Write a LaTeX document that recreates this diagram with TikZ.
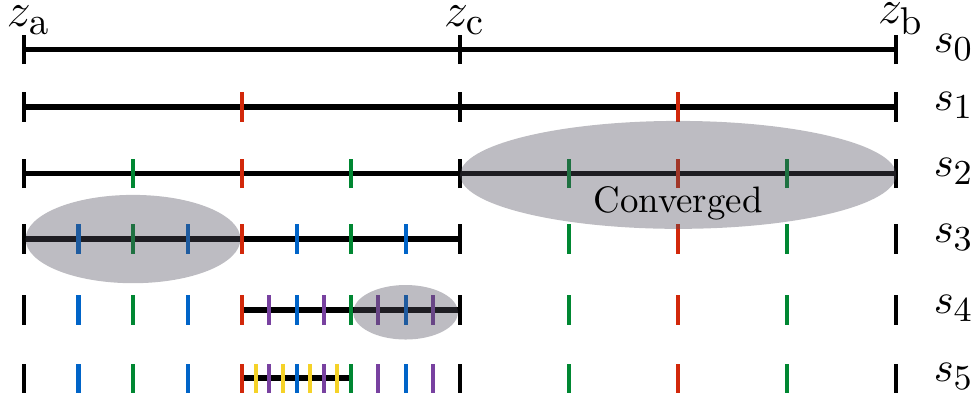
\RequirePackage{fix-cm}
\documentclass[tikz,border=0pt]{standalone}
\usetikzlibrary{positioning}
\DeclareMathSizes{13}{13}{10.5}{8}
\DeclareMathSizes{11.5}{11.5}{9.5}{7}
\definecolor{lvlR}{RGB}{210,40,10}
\definecolor{lvlG}{RGB}{0,135,50}
\definecolor{lvlB}{RGB}{0,100,200}
\definecolor{lvlP}{RGB}{120,65,160}
\definecolor{lvlY}{RGB}{245,210,40}
\definecolor{blobgray}{RGB}{80,78,92}
\newcommand{\tickat}[3]{\draw[tk,#1] (#2,#3-0.27) -- (#2,#3+0.27);}

\begin{document}
\begin{tikzpicture}[x=0.52cm,y=0.52cm,
    seg/.style={line width=1.6pt},
    tk/.style={line width=1.1pt},
    blob/.style={fill=blobgray,fill opacity=0.375},
    endlbl/.style={above=0pt,inner sep=0pt,xshift=1.2pt,font=\fontsize{13}{15}\selectfont},
    rowlbl/.style={right=10pt,inner sep=0pt,yshift=0.5pt,font=\fontsize{11.5}{13}\selectfont}]
  \useasboundingbox (-0.44,0.908) rectangle (17.39,-6.45);
  % bracketing segments
  \draw[seg] (0,0) -- (16,0);
  \draw[seg] (0,-1.055) -- (16,-1.055);
  \draw[seg] (0,-2.275) -- (16,-2.275);
  \draw[seg] (0,-3.477) -- (8,-3.477);
  \draw[seg] (4,-4.78) -- (8,-4.78);
  \draw[seg] (4,-6.03) -- (6,-6.03);
  % ticks of each level
  \foreach \y in {0,-1.055,-2.275,-3.477,-4.78,-6.03}
    {\foreach \x in {0,8,16} {\tickat{black}{\x}{\y}}}
  \foreach \y in {-1.055,-2.275,-3.477,-4.78,-6.03}
    {\foreach \x in {4,12} {\tickat{lvlR}{\x}{\y}}}
  \foreach \y in {-2.275,-3.477,-4.78,-6.03}
    {\foreach \x in {2,6,10,14} {\tickat{lvlG}{\x}{\y}}}
  \foreach \y in {-3.477,-4.78,-6.03}
    {\foreach \x in {1,3,5,7} {\tickat{lvlB}{\x}{\y}}}
  \foreach \y in {-4.78,-6.03}
    {\foreach \x in {4.5,5.5,6.5,7.5} {\tickat{lvlP}{\x}{\y}}}
  \foreach \x in {4.25,4.75,5.25,5.75} {\tickat{lvlY}{\x}{-6.03}}
  % converged parts
  \fill[blob] (12,-2.3) ellipse [x radius=4,y radius=0.99];
  \fill[blob] (2,-3.477) ellipse [x radius=1.97,y radius=0.81];
  \fill[blob] (7,-4.82) ellipse [x radius=0.96,y radius=0.5];
  \node (conv) at (12,-2.83) {Converged};
  % end points
  \node[endlbl] (za) at (0,0.27) {$z_\mathrm{a}$};
  \node[endlbl] (zc) at (8,0.27) {$z_\mathrm{c}$};
  \node[endlbl] (zb) at (16,0.27) {$z_\mathrm{b}$};
  % level names
  \node[rowlbl] (s0) at (16,0) {$s_0$};
  \node[rowlbl] (s1) at (16,-1.055) {$s_1$};
  \node[rowlbl] (s2) at (16,-2.275) {$s_2$};
  \node[rowlbl] (s3) at (16,-3.477) {$s_3$};
  \node[rowlbl] (s4) at (16,-4.78) {$s_4$};
  \node[rowlbl] (s5) at (16,-6.03) {$s_5$};
\end{tikzpicture}
\end{document}
